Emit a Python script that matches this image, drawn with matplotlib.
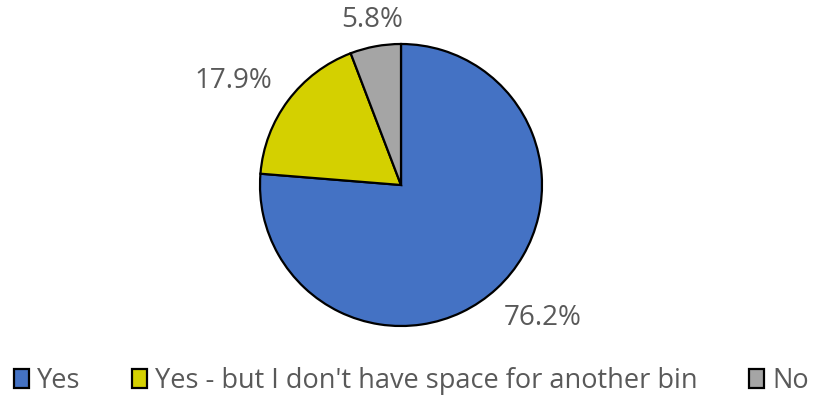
import numpy as np
import matplotlib.pyplot as plt

# Responses to the bin question
labels = ["Yes", "Yes - but I don't have space for another bin", "No"]
values = [76.2, 17.9, 5.8]
colors = ["#4472C4", "#D4D000", "#A5A5A5"]
# label placement outside each wedge: radius and angular nudge (degrees)
label_dist = [1.38, 1.40, 1.19]
label_shift = [4.0, 5.0, -0.7]

plt.rcParams['font.family'] = ['Open Sans', 'DejaVu Sans']

fig = plt.figure(figsize=(8.23, 3.99), dpi=100)
ax = fig.add_axes([260 / 823, 73 / 399, 282 / 823, 282 / 399])

wedges, _ = ax.pie(values, colors=colors, startangle=90, counterclock=False,
                   radius=1, wedgeprops=dict(edgecolor="black", linewidth=1.6))

for w, v, d, s in zip(wedges, values, label_dist, label_shift):
    ang = np.deg2rad((w.theta1 + w.theta2) / 2 + s)
    ax.text(d * np.cos(ang), d * np.sin(ang), f"{v}%", ha="center", va="center",
            fontsize=20, color="#595959")

ax.set_xlim(-1, 1)
ax.set_ylim(-1, 1)
ax.set_aspect("auto")
ax.axis("off")

leg = fig.legend(wedges, labels, loc="center", bbox_to_anchor=(0.5, 1 - 381 / 399),
                 ncol=3, frameon=False, fontsize=19.5, handlelength=0.55, handleheight=0.75,
                 handletextpad=0.3, columnspacing=1.9, labelcolor="#595959")

fig.savefig("out.png", dpi=100)
